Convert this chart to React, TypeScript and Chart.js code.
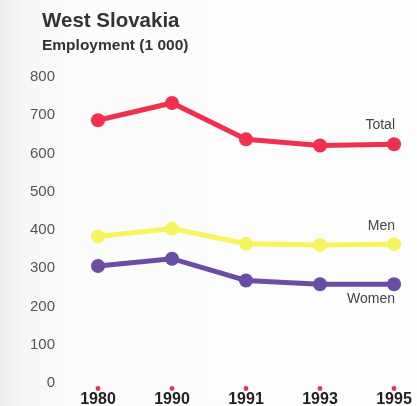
import React, { useEffect, useRef } from "react";
import { Chart, registerables } from "chart.js";

Chart.register(...registerables);

const categories = ["1980", "1990", "1991", "1993", "1995"];
const totalValues = [687, 732, 637, 621, 624];
const menValues = [383, 404, 364, 361, 363];
const womenValues = [306, 325, 268, 258, 258];
const yTicks = [0, 100, 200, 300, 400, 500, 600, 700, 800];
const seriesLabels = ["Total", "Men", "Women"];

const FONT = "'Liberation Sans', Arial, sans-serif";

const decorPlugin = {
  id: "decor",
  beforeDraw(chart: any) {
    const { ctx, width, height } = chart;
    ctx.save();
    const g = ctx.createLinearGradient(0, 0, width, 0);
    g.addColorStop(0, "#eeeeee");
    g.addColorStop(0.06, "#f7f7f7");
    g.addColorStop(0.2, "#fcfcfc");
    g.addColorStop(1, "#fdfdfd");
    ctx.fillStyle = g;
    ctx.fillRect(0, 0, width, height);
    ctx.restore();
  },
  afterDraw(chart: any) {
    const { ctx } = chart;
    const x = chart.scales.x;
    const area = chart.chartArea;
    ctx.save();
    ctx.fillStyle = "#333333";
    ctx.textBaseline = "alphabetic";
    ctx.textAlign = "left";
    ctx.font = "bold 20.5px " + FONT;
    ctx.fillText("West Slovakia", 42, 27);
    ctx.font = "bold 15.5px " + FONT;
    ctx.fillText("Employment (1 000)", 42, 50);
    ctx.fillStyle = "#e8334f";
    categories.forEach((_, i) => {
      const px = x.getPixelForTick(i);
      ctx.beginPath();
      ctx.arc(px, area.bottom + 5.5, 2.4, 0, Math.PI * 2);
      ctx.fill();
    });
    ctx.fillStyle = "#444444";
    ctx.font = "14px " + FONT;
    ctx.textAlign = "right";
    ctx.textBaseline = "middle";
    const offsets = [-19, -18, 15];
    chart.data.datasets.forEach((ds: any, i: number) => {
      const meta = chart.getDatasetMeta(i);
      const last = meta.data[meta.data.length - 1];
      ctx.fillText(seriesLabels[i], last.x + 1, last.y + offsets[i]);
    });
    ctx.restore();
  },
};

export default function App() {
  const ref = useRef<HTMLCanvasElement>(null);
  useEffect(() => {
    if (!ref.current) return;
    const mk = (label: string, data: number[], color: string) => ({
      label,
      data,
      borderColor: color,
      backgroundColor: color,
      pointBackgroundColor: color,
      pointBorderColor: color,
      borderWidth: 5,
      pointRadius: 7,
      pointBorderWidth: 0,
      tension: 0,
    });
    const chart = new Chart(ref.current, {
      type: "line",
      data: {
        labels: categories,
        datasets: [
          mk(seriesLabels[0], totalValues, "#f0304e"),
          mk(seriesLabels[1], menValues, "#f6f55e"),
          mk(seriesLabels[2], womenValues, "#6a4ea6"),
        ],
      },
      options: {
        animation: false,
        responsive: false,
        maintainAspectRatio: false,
        layout: { padding: { top: 77, right: 23, left: 0, bottom: 0 } },
        plugins: {
          legend: { display: false },
          tooltip: { enabled: false },
          title: { display: false },
        },
        scales: {
          x: {
            type: "category",
            offset: false,
            grid: { display: false, drawTicks: false },
            border: { display: false },
            ticks: {
              color: "#222222",
              font: { family: FONT, size: 16, weight: "bold" },
              padding: 7,
              maxRotation: 0,
              autoSkip: false,
            },
            afterFit(scale: any) {
              scale.height = 23;
              scale.paddingLeft = 0;
              scale.paddingRight = 0;
            },
          },
          y: {
            min: 0,
            max: 800,
            afterBuildTicks(scale: any) {
              scale.ticks = yTicks.map((v) => ({ value: v }));
            },
            grid: { display: false, drawTicks: false },
            border: { display: false },
            ticks: {
              color: "#555555",
              font: { family: FONT, size: 15 },
              padding: 43,
            },
            afterFit(scale: any) {
              scale.width = 98;
              scale.paddingTop = 9;
              scale.paddingBottom = 9;
            },
          },
        },
      },
      plugins: [decorPlugin],
    });
    return () => chart.destroy();
  }, []);
  return (
    <div style={{ position: "fixed", left: 0, top: 0, width: 417, height: 406 }}>
      <canvas ref={ref} width={417} height={406} style={{ display: "block" }} />
    </div>
  );
}
